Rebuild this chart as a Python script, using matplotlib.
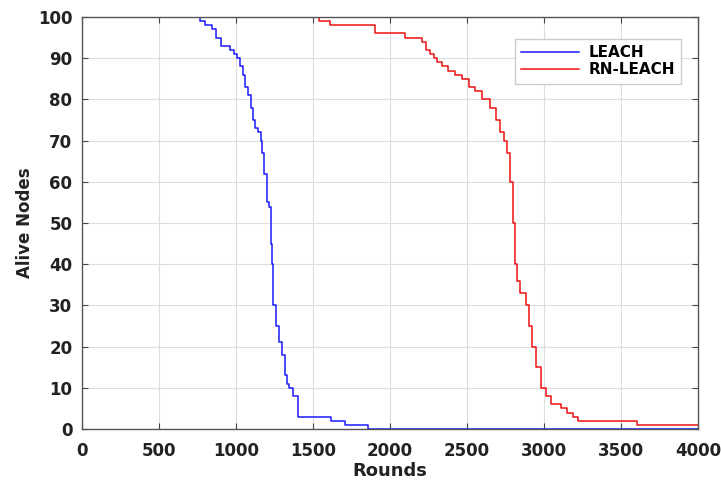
import matplotlib
matplotlib.use('Agg')
import matplotlib.pyplot as plt

plt.rcParams['font.family'] = ['DejaVu Sans']

# step points (round where the alive count changes)
leach_rounds = [0, 766, 800, 844, 870, 903, 961, 985, 1006, 1025, 1045, 1060, 1078, 1095,
                1110, 1125, 1143, 1160, 1169, 1185, 1201, 1214, 1227, 1232, 1240, 1260, 1280,
                1299, 1318, 1330, 1344, 1370, 1403, 1617, 1708, 1857, 4000]
leach_alive = [100, 99, 98, 97, 95, 93, 92, 91, 90, 88, 86, 83, 81, 78,
               75, 73, 72, 70, 67, 62, 55, 54, 45, 40, 30, 25, 21,
               18, 13, 11, 10, 8, 3, 2, 1, 0, 0]

rn_rounds = [0, 1539, 1610, 1903, 2097, 2208, 2235, 2260, 2285, 2305, 2340, 2377, 2420,
             2468, 2510, 2552, 2600, 2649, 2690, 2714, 2740, 2760, 2779, 2799, 2812, 2825,
             2844, 2883, 2900, 2922, 2950, 2981, 3010, 3045, 3110, 3149, 3188, 3221, 3604, 4000]
rn_alive = [100, 99, 98, 96, 95, 94, 92, 91, 90, 89, 88, 87, 86,
            85, 83, 82, 80, 78, 75, 72, 70, 67, 60, 50, 40, 36,
            33, 30, 25, 20, 15, 10, 8, 6, 5, 4, 3, 2, 1, 1]

fig = plt.figure(figsize=(7.21, 4.84), dpi=100)
ax = fig.add_axes([82/721, 1-429/484, 616/721, 412/484])

ax.plot(leach_rounds, leach_alive, drawstyle='steps-post', color='#1a1aff', lw=1.1, label='LEACH')
ax.plot(rn_rounds, rn_alive, drawstyle='steps-post', color='#ee1111', lw=1.1, label='RN-LEACH')

ax.set_xlim(0, 4000)
ax.set_ylim(0, 100)
ax.set_xticks(range(0, 4001, 500))
ax.set_yticks(range(0, 101, 10))
ax.grid(True, color='#dddddd', lw=0.8)
ax.tick_params(direction='in', top=True, right=True, length=4, color='#444444',
               labelsize=12, width=0.8)
ax.tick_params(axis='x', pad=9)
ax.tick_params(axis='y', pad=7)
for lab in ax.get_xticklabels() + ax.get_yticklabels():
    lab.set_fontweight('bold')
    lab.set_color('#222222')
for s in ax.spines.values():
    s.set_color('#555555')
    s.set_linewidth(1.0)

ax.set_xlabel('Rounds', fontsize=13, fontweight='bold', labelpad=2, color='#222222')
ax.set_ylabel('Alive Nodes', fontsize=12, fontweight='bold', labelpad=3, color='#222222')

leg = ax.legend(loc='upper right', bbox_to_anchor=(0.985, 0.965),
                prop={'weight': 'bold', 'size': 11}, handlelength=3.8,
                fancybox=False, edgecolor='#cccccc', framealpha=1,
                borderpad=0.4, labelspacing=0.15, handletextpad=0.6)

fig.savefig('out.png', dpi=100)
